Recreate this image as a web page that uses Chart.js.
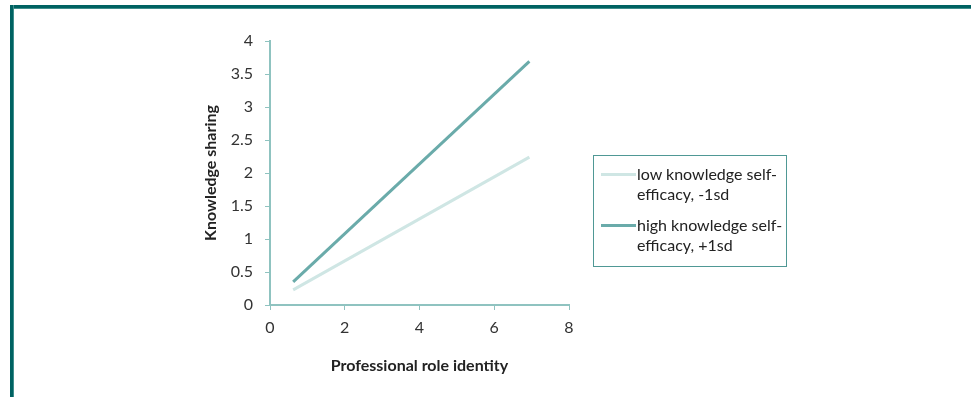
<!DOCTYPE html>
<html><head><meta charset="utf-8">
<script src="https://cdn.jsdelivr.net/npm/chart.js@4/dist/chart.umd.min.js"></script>
<style>
html,body{margin:0;padding:0;background:#fff;width:971px;height:397px;overflow:hidden;font-family:Lato,"Open Sans",sans-serif;}
#wrap{position:absolute;left:0;top:0;width:971px;height:397px;}
#frameTop{position:absolute;left:10px;top:5px;right:0;height:3px;background:#006262;border-bottom:1px solid #3f8e8c;}
#frameLeft{position:absolute;left:10px;top:5px;bottom:0;width:3px;background:#006262;border-right:1px solid #3f8e8c;}
#legend{position:absolute;left:593px;top:155px;width:194px;height:112px;border:1px solid #4f9895;box-sizing:border-box;font-size:16px;color:#222;}
.item{position:absolute;left:7px;}
.sw{position:absolute;left:0;top:9px;width:35px;height:3px;}
.txt{position:absolute;left:36px;top:0;line-height:20px;white-space:nowrap;}
</style></head>
<body>
<div id="wrap"><canvas id="c" width="971" height="397"></canvas></div>
<div id="frameTop"></div><div id="frameLeft"></div>
<div id="legend"></div>
<script>
const xValues = [0.62, 6.94];
const lowSeries = [0.23, 2.24];
const highSeries = [0.35, 3.69];
const seriesNames = [["low knowledge self-", "efficacy, -1sd"], ["high knowledge self-", "efficacy, +1sd"]];
const xTicks = [0, 2, 4, 6, 8];
const yTicks = [0, 0.5, 1, 1.5, 2, 2.5, 3, 3.5, 4];
const colors = ["#cfe6e4", "#6aabaa"];
const axisColor = "#8fc3c0";

const toPts = ys => xValues.map((x, i) => ({x: x, y: ys[i]}));

new Chart(document.getElementById('c'), {
  type: 'line',
  data: {
    datasets: [
      {label: seriesNames[0].join(' '), data: toPts(lowSeries), borderColor: colors[0], borderWidth: 3, pointRadius: 0, fill: false},
      {label: seriesNames[1].join(' '), data: toPts(highSeries), borderColor: colors[1], borderWidth: 3, pointRadius: 0, fill: false}
    ]
  },
  options: {
    responsive: false,
    animation: false,
    layout: {padding: {left: 201, right: 402, top: 41, bottom: 22}},
    plugins: {legend: {display: false}, tooltip: {enabled: false}},
    scales: {
      x: {
        type: 'linear', min: 0, max: 8,
        afterBuildTicks: s => { s.ticks = xTicks.map(v => ({value: v})); },
        grid: {drawOnChartArea: false, color: axisColor, tickLength: 5, lineWidth: 1},
        border: {color: axisColor, width: 2},
        ticks: {color: '#333', font: {family: 'Lato', size: 16}, padding: 8, callback: v => String(v)},
        title: {display: true, text: 'Professional role identity', color: '#222', font: {family: 'Lato', size: 16, weight: 'bold'}, padding: {top: 9, bottom: 0}},
        afterFit: s => { s.height = 70; }
      },
      y: {
        type: 'linear', min: 0, max: 4,
        afterBuildTicks: s => { s.ticks = yTicks.map(v => ({value: v})); },
        grid: {drawOnChartArea: false, color: axisColor, tickLength: 5, lineWidth: 1},
        border: {color: axisColor, width: 2},
        ticks: {color: '#333', font: {family: 'Lato', size: 16}, padding: 12, callback: v => String(v)},
        title: {display: true, text: 'Knowledge sharing', color: '#222', font: {family: 'Lato', size: 16, weight: 'bold'}, padding: {top: 0, bottom: 4}},
        afterFit: s => { s.width = 69; }
      }
    }
  }
});

const lg = document.getElementById('legend');
seriesNames.forEach((lines, i) => {
  const it = document.createElement('div');
  it.className = 'item';
  it.style.top = (8 + i * 51) + 'px';
  const sw = document.createElement('div');
  sw.className = 'sw'; sw.style.background = colors[i];
  const tx = document.createElement('div');
  tx.className = 'txt';
  tx.innerHTML = lines.join('<br>');
  it.appendChild(sw); it.appendChild(tx);
  lg.appendChild(it);
});
</script>
</body></html>
